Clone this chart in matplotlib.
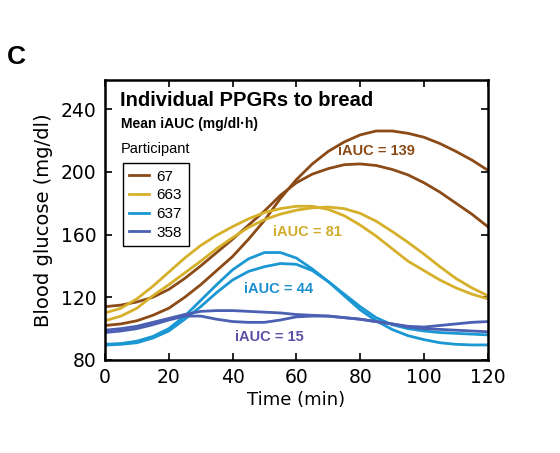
import numpy as np
import matplotlib.pyplot as plt

# Time points (min)
time = list(range(0, 121, 5))

# Participant 67 (two repeats)
p67_a = [114, 115, 117, 120, 125, 132, 140, 148.5, 157, 166, 175, 185, 193, 198.5,
         202, 204.5, 205, 204, 201.5, 198, 193, 187, 180, 173, 165]
p67_b = [102, 103, 105, 108.5, 113, 120, 128, 137, 146, 157, 169, 183, 195, 205,
         213, 219, 223.5, 226, 226, 224.5, 222, 218, 213, 207.5, 201]
# Participant 663
p663_a = [110, 113, 119, 127, 136, 145, 153, 159.5, 165, 170, 174, 176.5, 178, 178,
          176, 172, 166, 159, 151, 143, 137, 131, 126, 122, 119]
p663_b = [105, 108, 113, 121, 128, 135.5, 143, 151, 158, 164.5, 169.5, 173, 175.5, 177,
          177.5, 176.5, 173.5, 168.5, 162, 155, 147.5, 139.5, 132, 126, 121]
# Participant 637
p637_a = [90, 90.5, 92, 95, 100, 108, 118, 128, 137.5, 144.5, 148.5, 148.5, 145, 138,
          130, 121, 112, 105, 99.5, 95.5, 93, 91, 90, 89.6, 89.6]
p637_b = [89.5, 90, 91, 94, 98.5, 106, 114, 123, 131, 136.5, 139.5, 141.5, 141, 137,
          130, 122, 114, 107, 102.5, 100, 98.5, 97.5, 97, 96.5, 96]
# Participant 358
p358_a = [99, 100, 101.5, 104, 106.5, 109, 111, 111.5, 111.5, 111, 110.5, 110, 109, 108.5,
          108, 107, 106, 104.5, 103, 101.5, 101, 102, 103, 104, 104.5]
p358_b = [97.5, 98.5, 100, 102.5, 105.5, 108, 108, 106, 104.5, 104, 104, 105.5, 107.5, 108,
          108, 107, 106, 104.5, 103, 101, 100, 99.5, 99, 98.5, 98]

participants = ['67', '663', '637', '358']
colors = ['#8b4a16', '#d6b02a', '#1b97d3', '#4b60b3']
iauc_labels = ['iAUC = 139', 'iAUC = 81', 'iAUC = 44', 'iAUC = 15']
label_colors = ['#8b4a16', '#d1ac2a', '#1b8fcf', '#5a4fa6']
label_pos = [(85, 213.5), (63.5, 161.5), (54.3, 125.5), (51.5, 94.8)]

series = [(p67_a, p67_b), (p663_a, p663_b), (p637_a, p637_b), (p358_a, p358_b)]

fig = plt.figure(figsize=(5.6, 4.53), dpi=100)
ax = fig.add_axes([0.1875, 0.2053, 0.6835, 0.6181])

handles = []
for (a, b), c, name in zip(series, colors, participants):
    h, = ax.plot(time, a, color=c, lw=2.0, label=name, solid_joinstyle='round')
    ax.plot(time, b, color=c, lw=2.0, solid_joinstyle='round')
    handles.append(h)

for txt, c, (x, y) in zip(iauc_labels, label_colors, label_pos):
    ax.text(x, y, txt, color=c, fontsize=10.5, fontweight='bold',
            family='Liberation Sans', ha='center', va='center')

ax.set_xlim(0, 120)
ax.set_ylim(80, 258.5)
ax.set_xticks(np.arange(0, 121, 20))
ax.set_yticks(np.arange(80, 241, 40))
ax.tick_params(direction='in', length=5, width=1.2, labelsize=13.5,
               top=True, right=True, pad=6)
for s in ax.spines.values():
    s.set_linewidth(1.8)

ax.set_xlabel('Time (min)', fontsize=13, labelpad=3)
ax.set_ylabel('Blood glucose (mg/dl)', fontsize=14, labelpad=6)

ax.text(0.04, 0.96, 'Individual PPGRs to bread', transform=ax.transAxes,
        fontsize=14.5, fontweight='bold', family='Liberation Sans', va='top')
ax.text(0.042, 0.868, 'Mean iAUC (mg/dl\u00b7h)', transform=ax.transAxes,
        fontsize=10, fontweight='bold', family='Liberation Sans', va='top')
ax.text(0.042, 0.78, 'Participant', transform=ax.transAxes,
        fontsize=10.5, family='Liberation Sans', va='top')

leg = ax.legend(handles=handles, loc='upper left', bbox_to_anchor=(0.046, 0.704),
                borderaxespad=0, fancybox=False, framealpha=1, edgecolor='black',
                fontsize=11, handlelength=1.3, handletextpad=0.45,
                labelspacing=0.3, borderpad=0.45)
leg.get_frame().set_linewidth(1.0)
for t in leg.get_texts():
    t.set_family('Liberation Sans')

fig.text(0.012, 0.858, 'C', fontsize=19, fontweight='bold', family='Liberation Sans')

fig.savefig('out.png', dpi=100)
